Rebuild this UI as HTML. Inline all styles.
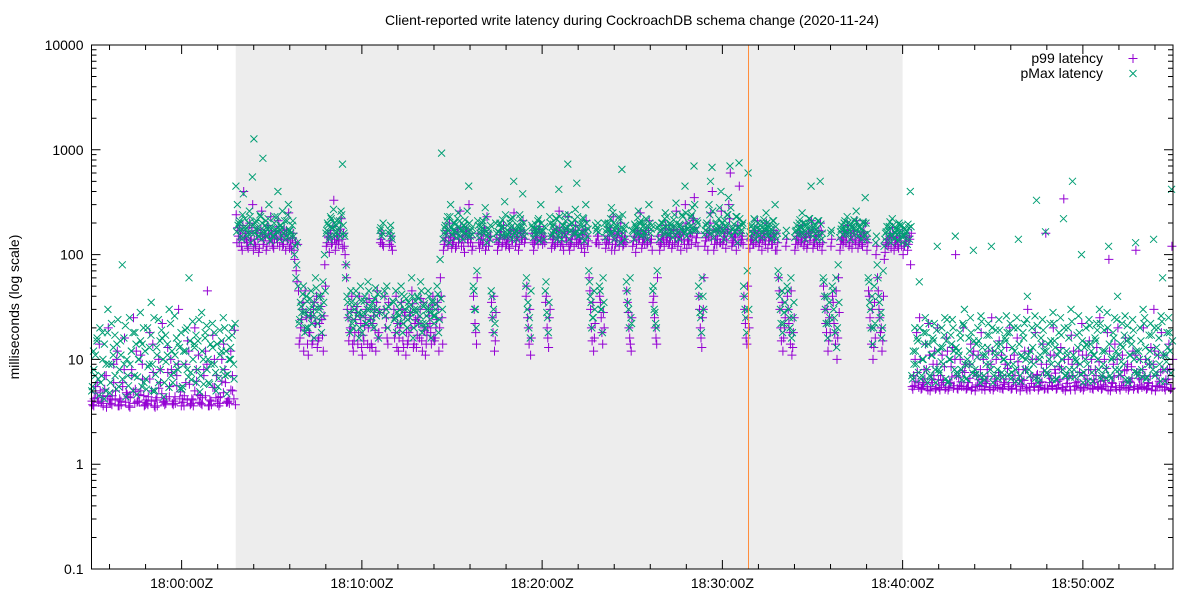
<!DOCTYPE html>
<html><head><meta charset="utf-8">
<style>
body{margin:0;background:#fff;}
svg{display:block;font-family:"Liberation Sans",Arial,sans-serif;}
</style></head>
<body>
<svg id="chart" width="1200" height="600" viewBox="0 0 1200 600">
<rect x="0" y="0" width="1200" height="600" fill="#fff"/>
<g id="bands"></g>
<g id="marks"></g>
<g id="axes"></g>
<text x="632" y="25" text-anchor="middle" font-size="14" fill="#000">Client-reported write latency during CockroachDB schema change (2020-11-24)</text>
<text transform="translate(19,307) rotate(-90)" text-anchor="middle" font-size="14" fill="#000">milliseconds (log scale)</text>
<g>
<text x="1103" y="63" text-anchor="end" font-size="14">p99 latency</text>
<path d="M1128.5 58.5h9M1133 54v9" stroke="#9400d3" stroke-width="1"/>
<text x="1103" y="78" text-anchor="end" font-size="14">pMax latency</text>
<path d="M1129.5 70l7 7M1136.5 70l-7 7" stroke="#009e73" stroke-width="1"/>
</g>
</svg>
<script>
const xTickLabels = ["18:00:00Z","18:10:00Z","18:20:00Z","18:30:00Z","18:40:00Z","18:50:00Z"];
const xTickMinutes = [5,15,25,35,45,55];
const yTickValues = [0.1,1,10,100,1000,10000];
const yTickLabels = ["0.1","1","10","100","1000","10000"];
const schemaChangeStart = 8;
const schemaChangeEnd = 45;
const markerLine = 36.45;
const binMinutes = 0.5;
const p99Bins = [
[4,3.6,5.5,4.3,14],[3.8,4.5,7,3.5,20],[4.2,3.7,9,5,12],[3.6,4,6,16,4.8],[4.4,3.5,8,25,5.2],[3.9,4.6,11,6.5,3.6],[4.1,3.7,18,5,7.5],[3.5,4.3,10,6,22],[4,3.8,13,5.5,8],[3.7,4.4,7,30,4.9],[4.2,3.6,9,15,5.8],[3.8,4.1,20,6.2,11],[4.5,3.7,8,12,45],[3.6,4,17,5.4,7],[4.3,3.8,10,14,6],[3.9,4.2,12,5,19],
[240,180,130,150,110,400],[160,130,115,200,140,300],[140,120,170,105,150,260],[125,155,110,190,135,230],[130,115,160,145,210,120],[150,120,175,110,140,250],[135,110,160,90,70,125],
[14,20,30,12,45,25],[11,18,25,15,35,22],[13,16,40,24,12,80],
[120,150,105,170,130,330],[110,140,125,160,220,115],[120,80,30,15,20,40],
[12,18,28,14,40,22],[11,15,25,35,20,13],[14,22,30,12,45,18],[130,160,120,40,25,14],[125,150,110,30,18,13],[12,20,35,15,26,11],[14,18,28,45,13,22],[13,25,16,38,12,20],[11,17,30,22,14,40],[15,20,35,12,60,25],
[110,135,160,120,200,150],[125,145,115,175,130,260],[120,150,105,165,140,300],[130,110,40,22,14,160],[115,140,125,180,110,230],[120,150,35,18,12,28],[110,130,155,120,190,140],[125,145,115,170,135,250],
[120,150,110,165,140,210],[130,40,25,14,11,160],[110,135,160,125,185,145],[125,150,35,20,13,30],[115,140,120,175,130,260],[120,150,110,165,135,230],[110,130,155,120,190,140],[125,145,115,170,105,210],
[120,60,30,15,12,22],[130,150,40,25,14,20],[115,140,125,180,110,230],[110,135,160,120,200,150],[125,150,45,28,16,12],[120,150,105,165,140,250],[115,140,125,170,130,210],[130,110,40,20,14,150],[110,130,155,120,190,145],
[125,145,115,175,130,260],[120,150,110,165,140,300],[115,135,160,125,210,350],[130,160,40,20,13,30],[120,145,110,170,250,400],[110,140,125,175,130,260],[125,150,115,165,300,600],[120,135,160,110,190,450],[130,150,40,22,14,25],[115,140,125,170,130,210],
[120,145,110,165,135,200],[115,135,150,125,170,110],[110,60,30,15,12,20],[120,40,22,14,11,18],[110,140,125,160,130,190],[120,145,115,165,135,210],[115,130,150,120,170,200],
[110,50,30,18,12,25],[120,40,22,14,10,60],[110,140,125,165,130,190],[120,150,115,170,135,210],[115,130,150,120,165,200],[110,45,25,14,10,35],[100,60,30,18,12,40],[105,130,120,150,115,180],[110,125,140,115,160,120],[100,120,135,110,150,80],
[5.5,7,10,18,6,25],[5.2,6,8,14,5.5,22],[5,6.5,9,12,5.3,20],[5.4,7,11,6,5.2,16],[5.1,6,8.5,13,5.6,100],[5.3,6.8,10,5.5,20,7.5],[5.2,6,9,14,5.4,12],[5,7,11,5.6,18,6.5],[5.5,6.2,8,12,5.2,25],[5.1,6.5,10,5.4,15,7],
[5.3,6,9,13,5.5,20],[5.2,7,11,5.7,16,8],[5,6.4,8,12,5.3,30],[5.4,6.8,10,5.5,18,7],[5.1,6,9,14,5.2,160],[5.3,7,11,5.6,20,8],[5.2,6.2,8.5,13,5.4,340],[5,6.6,10,5.5,17,7],[5.5,6,9,12,5.3,22],[5.1,7,11,5.6,15,8],
[5.3,6.4,8,13,5.4,25],[5.2,6.8,10,5.5,18,90],[5,6,9,14,5.2,20],[5.4,7,11,5.6,16,8],[5.1,6.2,8.5,12,5.5,110],[5.3,6.6,10,5.4,20,7],[5.2,6,9,13,5.6,30],[5,7,11,5.5,18,8],[5.4,6.4,8,14,5.2,120]
];
const pMaxBins = [
[5,12,7,16,4.5],[6,18,4.2,9,30],[4.8,22,11,7,14],[5.5,15,80,9,4.4],[7,25,12,5,18],[4.6,10,28,14,6],[6.5,20,9,35,5],[5,13,24,8,16],[4.4,17,11,30,7],[6,26,9,14,5.3],[5.2,12,19,8,60],[7.5,23,13,6,15],[4.9,28,10,18,8],[6,14,22,9,5],[5.5,19,12,25,7],[4.7,16,10,20,6.5],
[450,300,200,170,140,380],[220,180,160,260,130,550],[1270,200,170,150,240,140],[830,160,210,175,300,135],[180,150,230,165,400,140],[190,260,160,140,210,300],[170,150,210,100,60,130],
[22,35,28,50,18,40],[20,30,45,26,16,60],[25,40,32,18,55,100],
[160,200,140,230,180,270],[150,190,170,210,260,730],[160,60,40,25,18,35],
[20,30,45,26,16,50],[18,28,40,22,55,30],[25,35,20,48,30,16],[170,150,200,45,30,20],[160,190,140,35,25,18],[22,30,50,18,40,25],[20,35,25,60,16,30],[28,40,22,55,18,32],[20,26,45,30,16,35],[22,30,50,18,90,930],
[140,180,160,230,130,300],[155,200,170,145,250,210],[170,140,190,160,260,450],[150,180,50,30,20,210],[145,170,200,160,280,130],[160,140,45,25,18,200],[140,165,200,180,150,320],[150,190,165,220,140,500],
[160,140,185,240,170,380],[150,50,30,20,16,190],[145,175,160,210,135,300],[165,140,45,28,18,230],[150,185,165,220,140,420],[160,140,190,240,175,730],[140,170,200,160,270,480],[150,195,165,225,135,300],
[150,70,40,20,25,30],[170,200,50,30,18,35],[145,175,200,160,280,250],[140,180,160,230,130,650],[160,140,55,35,20,25],[170,140,190,160,260,200],[150,185,165,220,140,300],[160,190,50,28,20,180],[140,170,200,160,250,230],
[155,200,170,145,240,310],[160,140,190,240,170,450],[150,180,165,230,280,700],[170,210,50,28,18,40],[155,190,165,300,500,680],[145,175,200,160,280,400],[160,140,190,240,350,700],[150,180,165,230,130,750],[160,190,50,30,18,600],[150,185,160,220,140,180],
[155,175,145,200,170,250],[150,180,165,140,210,300],[140,70,40,22,18,28],[150,50,30,20,16,25],[145,170,155,200,180,250],[160,140,190,175,220,450],[150,180,160,140,210,500],
[140,60,40,22,16,35],[160,50,30,18,13,80],[145,175,155,200,170,230],[160,140,185,175,210,260],[150,180,160,140,200,350],[140,60,35,20,14,50],[130,80,40,25,16,70],[140,165,150,185,130,220],[145,160,170,135,190,150],[130,150,160,125,180,400],
[7,12,20,9,15,55],[6.5,10,18,25,8,14],[7,11,16,22,6,120],[8,13,20,9,25,15],[6,10,17,24,12,150],[7.5,12,18,8,22,30],[6.5,10,16,25,9,110],[8,14,20,7,26,13],[7,11,17,22,9,120],[6,12,19,8,24,14],
[7.5,10,16,26,9,18],[6.5,13,20,8,25,140],[7,11,18,22,10,40],[8,12,20,9,26,330],[6,10,16,24,12,165],[7.5,14,22,9,28,15],[6.5,11,18,25,10,220],[7,12,20,8,30,500],[8,10,17,26,9,100],[6,13,20,9,24,14],
[7.5,11,16,22,10,30],[6.5,12,19,8,28,120],[7,10,18,25,12,40],[8,14,22,9,26,15],[6,11,16,24,10,130],[7.5,12,20,8,30,25],[6.5,10,17,22,9,140],[7,13,20,9,26,60],[8,11,18,25,12,420]
];
// additional readings per bin (second sample per half-minute)
const p99BinsB = [
[3.7,4.2,4.8,6,3.9,5],[4,3.6,5.2,7,4.4,3.8],[3.8,4.5,6,4.1,10,3.6],[4.2,3.7,5.5,8,3.9,4.6],[3.6,4.3,7,4.9,3.8,12],[4,3.9,5,9,4.5,3.7],[3.8,4.4,6.5,4,14,3.6],[4.1,3.6,5.3,8,4.7,3.9],[3.7,4.2,7.5,4.4,10,3.8],[4,3.8,5.6,9,4.2,3.6],[3.9,4.5,6,4.1,12,3.7],[4.2,3.6,5,8,4.6,3.9],[3.8,4.3,7,4.5,9,3.6],[4.1,3.7,5.4,10,4.3,3.8],[3.6,4.4,6.2,4.8,8,3.9],[4,3.8,5.1,7,4.2,3.7],
[130,150,170,120,190,140],[145,120,165,135,180,110],[125,160,140,115,175,150],[135,150,120,170,145,160],[120,140,165,130,185,150],[140,125,155,170,135,115],[120,145,110,130,55,45],
[16,24,35,19,28,14],[18,26,14,30,22,40],[15,22,32,17,26,50],
[130,145,160,125,185,140],[125,150,135,175,140,160],[100,60,25,18,30,14],
[15,24,32,18,26,13],[17,21,30,14,38,24],[13,26,19,35,16,28],[140,125,30,20,16,35],[135,120,25,16,40,22],[16,22,30,13,28,18],[15,26,20,34,14,24],[17,22,30,15,35,19],[14,20,26,18,33,16],[16,24,30,20,40,14],
[125,145,170,135,150,115],[130,155,120,165,140,180],[140,120,150,175,130,160],[145,120,30,18,60,130],[130,155,140,170,120,150],[135,150,25,40,15,140],[125,145,165,130,150,120],[140,120,160,135,175,150],
[135,150,125,170,145,160],[140,50,20,30,16,130],[125,150,140,175,135,160],[140,130,40,16,25,150],[130,150,125,170,145,180],[135,125,160,145,175,120],[125,140,165,150,130,170],[140,130,155,125,175,150],
[135,45,20,35,16,130],[150,125,35,18,28,140],[130,150,140,170,125,155],[125,145,165,135,150,120],[140,130,35,20,14,25],[135,150,125,170,145,160],[130,145,155,125,170,140],[140,35,25,16,60,130],[125,150,140,175,135,160],
[130,150,125,170,145,160],[135,155,140,175,125,200],[140,125,160,150,220,180],[145,120,30,16,25,60],[135,160,150,200,140,170],[125,150,140,165,130,180],[140,160,135,175,220,150],[130,150,145,170,125,160],[140,125,30,16,50,20],[135,150,125,165,145,160],
[130,150,140,160,125,170],[135,145,125,155,140,160],[130,45,20,35,16,25],[140,30,18,45,13,25],[125,150,140,165,135,155],[135,145,125,160,150,175],[130,150,140,155,125,165],
[130,40,22,30,15,18],[140,35,18,45,16,28],[125,145,135,160,150,170],[130,150,140,165,125,155],[135,145,125,160,150,140],[130,40,20,30,13,16],[120,45,25,20,15,90],[125,140,130,160,145,150],[130,145,120,150,135,160],[120,135,145,125,140,160],
[5.2,5.6,6.2,7.5,5.4,10],[5.3,5.8,6.5,8,5.1,11],[5.5,6,7,5.2,9,6.4],[5.1,5.7,6.3,8.5,5.4,12],[5.4,5.9,6.8,5.3,10,7],[5.2,5.6,6.1,7.8,5.5,9],[5.3,6,6.6,5.1,11,7.5],[5.5,5.7,6.4,8,5.2,10],[5.1,5.9,6.9,5.4,9,12],[5.4,5.6,6.2,7.5,5.3,11],
[5.2,5.8,6.5,8.2,5.5,10],[5.3,6,7,5.2,9.5,6.3],[5.5,5.7,6.3,8,5.1,12],[5.1,5.9,6.8,5.4,10,7.2],[5.4,5.6,6.1,7.6,5.3,9],[5.2,6,6.6,5.5,11,7.4],[5.3,5.7,6.4,8.1,5.2,10],[5.5,5.9,6.9,5.1,9,12],[5.1,5.6,6.2,7.5,5.4,11],[5.4,5.8,6.5,8,5.3,10],
[5.2,6,7,5.5,9.5,6.2],[5.3,5.7,6.3,8.2,5.1,12],[5.5,5.9,6.8,5.4,10,7],[5.1,5.6,6.1,7.8,5.3,9],[5.4,6,6.6,5.2,11,7.5],[5.2,5.7,6.4,8,5.5,10],[5.3,5.9,6.9,5.1,9,12],[5.5,5.6,6.2,7.6,5.4,11],[5.1,5.8,6.5,8.1,5.3,10]
];
const pMaxBinsB = [
[5.5,8,11,15,6.5,20],[7,10,14,5,18,9],[6,9,13,17,5.2,24],[8,11,6.5,16,21,10],[5.6,9,12,18,7,14],[6.8,10,15,5.5,20,12],[5.2,8.5,13,17,9,25],[7.2,11,6,15,19,10],[6,9.5,14,5.4,22,12],[7.5,11,16,8,13,18],[5.5,9,12,20,6.8,15],[6.4,10,14,17,8,24],[7,12,5.8,16,21,10],[5.8,9,13,18,7.5,14],[6.6,11,15,8,20,12],[7.2,10,13,17,9,22],
[165,190,210,150,240,180],[175,150,200,230,160,190],[160,210,180,150,230,200],[170,190,150,220,180,160],[150,200,175,230,165,190],[180,160,210,150,240,170],[160,190,150,120,80,50],
[24,32,42,28,20,36],[26,38,22,34,30,48],[22,30,40,26,35,45],
[170,190,150,220,180,200],[160,210,180,150,240,190],[150,80,35,28,45,22],
[24,34,40,28,20,36],[26,36,22,30,45,32],[22,30,38,26,42,28],[180,160,40,26,50,32],[170,150,36,24,45,28],[26,34,42,22,30,38],[24,32,28,40,20,36],[30,38,26,45,22,34],[22,30,40,28,36,26],[26,34,42,24,38,30],
[160,190,210,170,230,180],[170,200,160,220,185,150],[165,190,215,175,150,200],[170,155,45,30,70,190],[160,185,210,170,230,150],[175,190,40,30,22,160],[165,195,180,215,160,240],[170,155,200,185,225,160],
[170,190,160,220,185,200],[165,60,35,25,45,180],[160,195,175,220,165,200],[170,185,55,25,35,200],[160,195,175,220,150,230],[170,190,160,210,185,240],[165,200,180,215,160,230],[175,155,195,220,170,200],
[175,55,35,25,45,190],[180,165,45,30,60,200],[165,195,175,220,160,200],[170,190,160,215,180,240],[175,190,45,30,60,22],[165,195,180,225,160,210],[170,190,155,215,185,200],[175,45,30,22,70,190],[165,200,180,220,160,190],
[170,190,160,215,185,200],[165,195,175,230,160,250],[175,200,185,240,170,300],[175,200,40,25,60,30],[170,200,180,240,160,260],[165,195,175,220,180,200],[170,210,185,240,160,280],[175,195,165,230,185,220],[170,200,40,25,70,30],[165,190,175,215,160,200],
[170,190,160,215,180,200],[165,195,175,210,155,185],[160,60,30,45,22,35],[170,45,25,60,18,35],[165,190,175,215,160,200],[170,195,160,220,185,210],[165,190,175,210,155,195],
[160,55,30,40,22,25],[170,45,25,60,20,35],[165,190,175,210,160,200],[170,195,160,215,185,205],[165,185,175,205,155,200],[160,55,30,40,20,22],[150,60,35,28,20,120],[160,185,170,205,150,190],[165,180,155,200,170,190],[150,175,165,195,140,185],
[6.5,9,12,16,7.5,20],[7,10,14,18,6,22],[6.8,11,15,8,19,12],[7.5,9.5,13,17,6.5,24],[6.2,10,14,20,8,13],[7,11,16,6.4,21,9],[6.6,9,12,18,7.4,15],[7.2,10.5,15,6,23,11],[6.4,9,13,17,8,20],[7,11,14,6.6,19,12],
[6.8,10,15,18,7.2,22],[7.5,9,12,6.2,20,14],[6.2,10.5,16,8,24,11],[7,9.5,13,17,6.6,21],[6.6,11,14,19,7.8,12],[7.2,10,15,6.4,22,13],[6.4,9,12,17,8,20],[7,11,16,6.8,23,11],[6.8,9.5,13,18,7.2,15],[7.5,10,14,6.2,21,12],
[6.2,11,15,19,8,22],[7,9,12,6.6,20,14],[6.6,10.5,16,8,24,11],[7.2,9.5,13,17,6.4,21],[6.4,11,14,19,7.6,12],[7,10,15,6.8,22,13],[6.8,9,12,17,8,20],[7.5,11,16,6.2,23,11],[6.2,9.5,13,18,7.4,15]
];

const NS = "http://www.w3.org/2000/svg";
const L = 91.5, R = 1173, T = 45, B = 569;
const xMin = 0, xMax = 60, yMinLog = -1, yMaxLog = 4;
function xs(m){ return L + (m - xMin) / (xMax - xMin) * (R - L); }
function ys(v){ return B - (Math.log10(v) - yMinLog) / (yMaxLog - yMinLog) * (B - T); }
function mk(tag, attrs, parent){
  const e = document.createElementNS(NS, tag);
  for (const k in attrs) e.setAttribute(k, attrs[k]);
  parent.appendChild(e);
  return e;
}
const bands = document.getElementById('bands');
const marks = document.getElementById('marks');
const axes = document.getElementById('axes');

const band = mk('rect', {x: xs(schemaChangeStart), y: T, width: xs(schemaChangeEnd) - xs(schemaChangeStart), height: B - T, fill: '#ededed'}, bands);



function plusPath(bins, offset){
  let d = "";
  bins.forEach((vals, b) => {
    vals.forEach((v, i) => {
      const x = xs(b * binMinutes + binMinutes * (i + offset) / vals.length);
      const y = ys(v);
      if (y < T || y > B) return;
      d += `M${(x-4.5).toFixed(1)} ${y.toFixed(1)}h9M${x.toFixed(1)} ${(y-4.5).toFixed(1)}v9`;
    });
  });
  return d;
}
function crossPath(bins, offset){
  let d = "";
  bins.forEach((vals, b) => {
    vals.forEach((v, i) => {
      const x = xs(b * binMinutes + binMinutes * (i + offset) / vals.length);
      const y = ys(v);
      if (y < T || y > B) return;
      d += `M${(x-3.5).toFixed(1)} ${(y-3.5).toFixed(1)}l7 7M${(x+3.5).toFixed(1)} ${(y-3.5).toFixed(1)}l-7 7`;
    });
  });
  return d;
}

const p99Path = mk('path', {d: plusPath(p99Bins, 0.3) + plusPath(p99BinsB, 0.8), stroke: '#9400d3', 'stroke-width': 1, fill: 'none'}, marks);



const pMaxPath = mk('path', {d: crossPath(pMaxBins, 0.1) + crossPath(pMaxBinsB, 0.6), stroke: '#009e73', 'stroke-width': 1, fill: 'none'}, marks);



const orange = mk('line', {x1: xs(markerLine), x2: xs(markerLine), y1: T, y2: B, stroke: '#ff8c3a', 'stroke-width': 1}, marks);



const frame = mk('rect', {x: L, y: T, width: R - L, height: B - T, fill: 'none', stroke: '#000', 'stroke-width': 1}, axes);



let yd = "";
yTickValues.forEach((v, i) => {
  const y = ys(v);
  yd += `M${L} ${y}h9M${R} ${y}h-9`;
  const t = mk('text', {x: L - 8, y: y + 5, 'text-anchor': 'end', 'font-size': 14}, axes);
  t.textContent = yTickLabels[i];
  
  
  if (i < yTickValues.length - 1) {
    for (let k = 2; k <= 9; k++) {
      const ym = ys(v * k);
      yd += `M${L} ${ym}h5M${R} ${ym}h-5`;
    }
  }
});
for (let m = 1; m < 60; m += 2) {
  const x = xs(m);
  yd += `M${x} ${B}v-5M${x} ${T}v5`;
}
xTickMinutes.forEach((m, i) => {
  const x = xs(m);
  yd += `M${x} ${B}v-9M${x} ${T}v9`;
  const t = mk('text', {x: x, y: B + 19, 'text-anchor': 'middle', 'font-size': 14}, axes);
  t.textContent = xTickLabels[i];
  
  
});
const ticks = mk('path', {d: yd, stroke: '#000', 'stroke-width': 1, fill: 'none'}, axes);


</script>
</body></html>
